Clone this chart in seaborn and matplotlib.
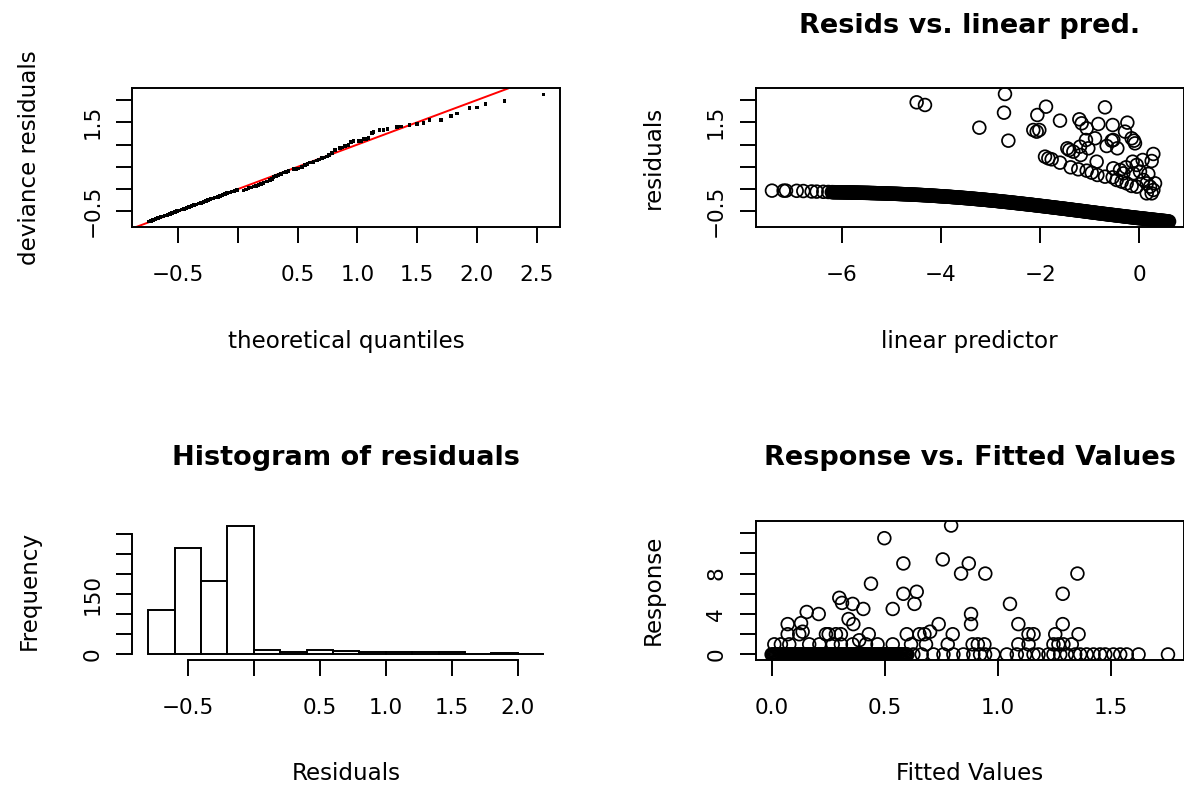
import matplotlib
matplotlib.use("Agg")
import matplotlib.pyplot as plt
import numpy as np
import pandas as pd
import seaborn as sns

# ---------------- data ----------------
# QQ plot (theoretical quantiles vs sorted deviance residuals)
qq_theoretical = [-0.75, -0.73, -0.71, -0.69, -0.67, -0.65, -0.63, -0.61, -0.59, -0.57,
                  -0.55, -0.53, -0.51, -0.49, -0.47, -0.45, -0.43, -0.41, -0.39, -0.37,
                  -0.35, -0.33, -0.31, -0.29, -0.27, -0.25, -0.23, -0.21, -0.19, -0.17,
                  -0.15, -0.13, -0.11, -0.09, -0.07, -0.05, -0.03, -0.01,
                  0.045, 0.066, 0.087, 0.108, 0.129, 0.150, 0.170, 0.191, 0.212, 0.240,
                  0.268, 0.282, 0.296, 0.317, 0.338, 0.359, 0.380, 0.401, 0.422, 0.463,
                  0.484, 0.505, 0.533, 0.561, 0.582, 0.603, 0.631, 0.659, 0.680, 0.701,
                  0.722, 0.743, 0.764, 0.784, 0.812, 0.854, 0.868, 0.893, 0.924, 0.944,
                  0.966, 1.008, 1.027, 1.050, 1.072, 1.092, 1.120, 1.133, 1.184, 1.217,
                  1.251, 1.329, 1.362, 1.435, 1.496, 1.552, 1.602, 1.697, 1.781, 1.831,
                  1.937, 1.999, 2.071, 2.231, 2.557]
qq_deviance = [-0.733, -0.714, -0.694, -0.675, -0.656, -0.636, -0.617, -0.598, -0.578, -0.559,
               -0.540, -0.521, -0.501, -0.482, -0.463, -0.443, -0.424, -0.405, -0.385, -0.366,
               -0.347, -0.328, -0.308, -0.289, -0.270, -0.250, -0.231, -0.212, -0.192, -0.173,
               -0.154, -0.134, -0.115, -0.096, -0.077, -0.057, -0.038, -0.019,
               -0.036, -0.010, 0.016, 0.035, 0.054, 0.072, 0.091, 0.110, 0.129, 0.166,
               0.203, 0.233, 0.263, 0.290, 0.316, 0.342, 0.368, 0.387, 0.406, 0.443,
               0.450, 0.458, 0.488, 0.540, 0.566, 0.593, 0.615, 0.638, 0.664, 0.690,
               0.709, 0.728, 0.765, 0.803, 0.878, 0.915, 0.937, 0.967, 0.990, 1.050,
               1.072, 1.072, 1.072, 1.125, 1.117, 1.140, 1.252, 1.275, 1.320, 1.320,
               1.342, 1.387, 1.409, 1.432, 1.462, 1.484, 1.544, 1.544, 1.634, 1.701,
               1.814, 1.836, 1.904, 1.971, 2.128]
qq_ref_intercept = 0.0
qq_ref_slope = 1.0

# Residuals vs linear predictor: sparse left end of the band
tail_eta = [-7.406, -7.171, -7.123, -6.908, -6.774, -6.606, -6.505, -6.371, -6.270]
tail_resid = [-0.036, -0.036, -0.036, -0.040, -0.045, -0.055, -0.058, -0.062, -0.066]
# dense band of zero-response observations
band_eta = [-6.20, -6.18, -6.16, -6.14, -6.12, -6.10, -6.08, -6.06, -6.04, -6.02,
            -6.00, -5.98, -5.96, -5.94, -5.92, -5.90, -5.88, -5.86, -5.84, -5.82,
            -5.80, -5.78, -5.76, -5.74, -5.72, -5.70, -5.68, -5.66, -5.64, -5.62,
            -5.60, -5.58, -5.56, -5.54, -5.52, -5.50, -5.48, -5.46, -5.44, -5.42,
            -5.40, -5.38, -5.36, -5.34, -5.32, -5.30, -5.28, -5.26, -5.24, -5.22,
            -5.20, -5.18, -5.16, -5.14, -5.12, -5.10, -5.08, -5.06, -5.04, -5.02,
            -5.00, -4.98, -4.96, -4.94, -4.92, -4.90, -4.88, -4.86, -4.84, -4.82,
            -4.80, -4.78, -4.76, -4.74, -4.72, -4.70, -4.68, -4.66, -4.64, -4.62,
            -4.60, -4.58, -4.56, -4.54, -4.52, -4.50, -4.48, -4.46, -4.44, -4.42,
            -4.40, -4.38, -4.36, -4.34, -4.32, -4.30, -4.28, -4.26, -4.24, -4.22,
            -4.20, -4.18, -4.16, -4.14, -4.12, -4.10, -4.08, -4.06, -4.04, -4.02,
            -4.00, -3.98, -3.96, -3.94, -3.92, -3.90, -3.88, -3.86, -3.84, -3.82,
            -3.80, -3.78, -3.76, -3.74, -3.72, -3.70, -3.68, -3.66, -3.64, -3.62,
            -3.60, -3.58, -3.56, -3.54, -3.52, -3.50, -3.48, -3.46, -3.44, -3.42,
            -3.40, -3.38, -3.36, -3.34, -3.32, -3.30, -3.28, -3.26, -3.24, -3.22,
            -3.20, -3.18, -3.16, -3.14, -3.12, -3.10, -3.08, -3.06, -3.04, -3.02,
            -3.00, -2.98, -2.96, -2.94, -2.92, -2.90, -2.88, -2.86, -2.84, -2.82,
            -2.80, -2.78, -2.76, -2.74, -2.72, -2.70, -2.68, -2.66, -2.64, -2.62,
            -2.60, -2.58, -2.56, -2.54, -2.52, -2.50, -2.48, -2.46, -2.44, -2.42,
            -2.40, -2.38, -2.36, -2.34, -2.32, -2.30, -2.28, -2.26, -2.24, -2.22,
            -2.20, -2.18, -2.16, -2.14, -2.12, -2.10, -2.08, -2.06, -2.04, -2.02,
            -2.00, -1.98, -1.96, -1.94, -1.92, -1.90, -1.88, -1.86, -1.84, -1.82,
            -1.80, -1.78, -1.76, -1.74, -1.72, -1.70, -1.68, -1.66, -1.64, -1.62,
            -1.60, -1.58, -1.56, -1.54, -1.52, -1.50, -1.48, -1.46, -1.44, -1.42,
            -1.40, -1.38, -1.36, -1.34, -1.32, -1.30, -1.28, -1.26, -1.24, -1.22,
            -1.20, -1.18, -1.16, -1.14, -1.12, -1.10, -1.08, -1.06, -1.04, -1.02,
            -1.00, -0.98, -0.96, -0.94, -0.92, -0.90, -0.88, -0.86, -0.84, -0.82,
            -0.80, -0.78, -0.76, -0.74, -0.72, -0.70, -0.68, -0.66, -0.64, -0.62,
            -0.60, -0.58, -0.56, -0.54, -0.52, -0.50, -0.48, -0.46, -0.44, -0.42,
            -0.40, -0.38, -0.36, -0.34, -0.32, -0.30, -0.28, -0.26, -0.24, -0.22,
            -0.20, -0.18, -0.16, -0.14, -0.12, -0.10, -0.08, -0.06, -0.04, -0.02,
            0.00, 0.02, 0.04, 0.06, 0.08, 0.10, 0.12, 0.14, 0.16, 0.18,
            0.20, 0.22, 0.24, 0.26, 0.28, 0.30, 0.32, 0.34, 0.36, 0.38,
            0.40, 0.42, 0.44, 0.46, 0.48, 0.50, 0.52, 0.54, 0.56, 0.58,
            0.60]
band_resid = [-0.070, -0.070, -0.071, -0.071, -0.072, -0.072, -0.072, -0.073, -0.073, -0.073,
              -0.074, -0.074, -0.075, -0.075, -0.076, -0.076, -0.077, -0.077, -0.077, -0.078,
              -0.078, -0.078, -0.079, -0.079, -0.080, -0.080, -0.081, -0.082, -0.083, -0.083,
              -0.084, -0.084, -0.085, -0.085, -0.086, -0.086, -0.087, -0.087, -0.088, -0.089,
              -0.090, -0.090, -0.091, -0.091, -0.092, -0.093, -0.094, -0.094, -0.095, -0.095,
              -0.096, -0.097, -0.098, -0.098, -0.099, -0.100, -0.101, -0.101, -0.102, -0.103,
              -0.104, -0.105, -0.106, -0.106, -0.107, -0.108, -0.109, -0.110, -0.111, -0.112,
              -0.113, -0.114, -0.115, -0.116, -0.117, -0.118, -0.119, -0.120, -0.121, -0.122,
              -0.123, -0.124, -0.125, -0.126, -0.127, -0.128, -0.130, -0.131, -0.132, -0.133,
              -0.134, -0.135, -0.137, -0.138, -0.139, -0.140, -0.142, -0.143, -0.145, -0.146,
              -0.147, -0.148, -0.150, -0.151, -0.153, -0.154, -0.156, -0.157, -0.159, -0.160,
              -0.162, -0.163, -0.165, -0.166, -0.168, -0.169, -0.171, -0.172, -0.174, -0.175,
              -0.177, -0.179, -0.181, -0.182, -0.184, -0.185, -0.187, -0.189, -0.191, -0.192,
              -0.194, -0.196, -0.198, -0.200, -0.202, -0.203, -0.205, -0.207, -0.209, -0.211,
              -0.213, -0.215, -0.217, -0.219, -0.221, -0.223, -0.225, -0.227, -0.229, -0.231,
              -0.233, -0.235, -0.237, -0.239, -0.241, -0.243, -0.245, -0.248, -0.250, -0.252,
              -0.254, -0.256, -0.258, -0.261, -0.263, -0.265, -0.267, -0.270, -0.272, -0.275,
              -0.277, -0.279, -0.281, -0.284, -0.286, -0.289, -0.291, -0.293, -0.295, -0.298,
              -0.300, -0.303, -0.305, -0.308, -0.310, -0.313, -0.315, -0.318, -0.320, -0.323,
              -0.325, -0.328, -0.330, -0.333, -0.335, -0.338, -0.340, -0.343, -0.345, -0.348,
              -0.350, -0.353, -0.355, -0.358, -0.361, -0.364, -0.366, -0.369, -0.371, -0.374,
              -0.377, -0.380, -0.382, -0.385, -0.387, -0.390, -0.393, -0.396, -0.398, -0.401,
              -0.404, -0.407, -0.409, -0.412, -0.415, -0.418, -0.420, -0.423, -0.426, -0.429,
              -0.431, -0.434, -0.437, -0.440, -0.442, -0.445, -0.448, -0.451, -0.454, -0.457,
              -0.459, -0.462, -0.465, -0.468, -0.471, -0.474, -0.476, -0.479, -0.482, -0.485,
              -0.488, -0.491, -0.493, -0.496, -0.499, -0.502, -0.505, -0.508, -0.511, -0.514,
              -0.517, -0.520, -0.522, -0.525, -0.528, -0.531, -0.534, -0.537, -0.540, -0.543,
              -0.545, -0.548, -0.551, -0.554, -0.557, -0.560, -0.562, -0.565, -0.568, -0.571,
              -0.573, -0.576, -0.579, -0.582, -0.584, -0.587, -0.590, -0.593, -0.595, -0.598,
              -0.601, -0.604, -0.606, -0.609, -0.612, -0.615, -0.617, -0.620, -0.622, -0.625,
              -0.628, -0.631, -0.633, -0.636, -0.638, -0.641, -0.644, -0.647, -0.649, -0.652,
              -0.654, -0.657, -0.659, -0.662, -0.664, -0.667, -0.669, -0.672, -0.675, -0.677,
              -0.680, -0.682, -0.685, -0.687, -0.690, -0.692, -0.695, -0.697, -0.700, -0.702,
              -0.705, -0.707, -0.710, -0.712, -0.715, -0.717, -0.719, -0.722, -0.724, -0.727,
              -0.729]
# positive-response observations
upper_eta = [-4.489, -4.321, -3.225, -2.708, -2.728, -2.640, -1.881, -2.056, -2.137, -2.069,
             -2.016, -1.599, -1.209, -1.162, -1.061, -0.826, -0.692, -0.537, -0.241, -0.288,
             -0.154, -0.107, -0.087, -1.075, -0.893, -1.196, -1.028, -0.658, -0.524, -0.443,
             -0.557, -1.411, -1.451, -1.330, -1.182, -1.901, -1.834, -1.767, -1.599, -1.384,
             -1.230, -1.061, -0.960, -0.860, -0.846, -0.692, -0.537, -0.524, -0.389, -0.268,
             -0.134, 0.068, 0.283, 0.249, -0.456, -0.355, -0.255, -0.154, -0.053, 0.081,
             0.149, 0.216, 0.283, 0.317, 0.149, 0.249, -0.120, 0.014, 0.182, -0.322, -0.053]
upper_resid = [1.949, 1.889, 1.379, 2.136, 1.716, 1.087, 1.851, 1.664, 1.327, 1.290,
               1.327, 1.537, 1.567, 1.477, 1.364, 1.462, 1.836, 1.439, 1.492, 1.290,
               1.140, 1.087, 1.027, 1.102, 1.140, 0.952, 0.915, 0.967, 1.102, 0.915,
               1.087, 0.878, 0.915, 0.840, 0.765, 0.728, 0.690, 0.668, 0.593, 0.488,
               0.443, 0.413, 0.368, 0.615, 0.316, 0.278, 0.263, 0.466, 0.428, 0.488,
               0.615, 0.653, 0.788, 0.630, 0.203, 0.166, 0.128, 0.069, 0.053, 0.203,
               0.128, 0.053, -0.021, 0.128, -0.097, -0.097, 0.353, 0.391, 0.339, 0.353, 0.541]

# Histogram of residuals
hist_edges = [-0.8, -0.6, -0.4, -0.2, 0.0, 0.2, 0.4, 0.6, 0.8, 1.0, 1.2, 1.4, 1.6, 1.8, 2.0, 2.2]
hist_counts = [110, 264, 183, 320, 11, 7, 12, 9, 7, 7, 5, 5, 2, 4, 1]

# Response vs fitted values
zero_fitted = [0.000, 0.005, 0.010, 0.015, 0.020, 0.025, 0.030, 0.035, 0.040, 0.045,
               0.050, 0.055, 0.060, 0.065, 0.070, 0.075, 0.080, 0.085, 0.090, 0.095,
               0.100, 0.105, 0.110, 0.115, 0.120, 0.125, 0.130, 0.135, 0.140, 0.145,
               0.150, 0.155, 0.160, 0.165, 0.170, 0.175, 0.180, 0.185, 0.190, 0.195,
               0.200, 0.205, 0.210, 0.215, 0.220, 0.225, 0.230, 0.235, 0.240, 0.245,
               0.250, 0.255, 0.260, 0.265, 0.270, 0.275, 0.280, 0.285, 0.290, 0.295,
               0.300, 0.305, 0.310, 0.315, 0.320, 0.325, 0.330, 0.335, 0.340, 0.345,
               0.350, 0.355, 0.360, 0.365, 0.370, 0.375, 0.380, 0.385, 0.390, 0.395,
               0.400, 0.405, 0.410, 0.415, 0.420, 0.425, 0.430, 0.435, 0.440, 0.445,
               0.450, 0.455, 0.460, 0.465, 0.470, 0.475, 0.480, 0.485, 0.490, 0.495,
               0.500, 0.505, 0.510, 0.515, 0.520, 0.525, 0.530, 0.535, 0.540, 0.545,
               0.550, 0.555, 0.560, 0.565, 0.570, 0.575, 0.580, 0.585, 0.590, 0.595,
               0.600,
               0.626, 0.663, 0.715, 0.759, 0.803, 0.847, 0.891, 0.921, 0.943, 0.980,
               1.039, 1.083, 1.120, 1.157, 1.179, 1.223, 1.245, 1.275, 1.304, 1.341,
               1.363, 1.392, 1.422, 1.451, 1.474, 1.510, 1.540, 1.569, 1.621, 1.751]
one_fitted = [0.012, 0.041, 0.078, 0.166, 0.211, 0.270, 0.306, 0.358, 0.417, 0.468,
              0.535, 0.616, 0.682, 0.778, 0.888, 0.911, 0.940, 1.090, 1.135, 1.245,
              1.267, 1.289, 1.326]
other_fitted = [0.793, 0.498, 0.582, 0.756, 0.871, 0.837, 0.944, 0.439, 0.582, 0.641,
                0.631, 0.535, 0.405, 0.299, 0.311, 0.358, 0.340, 0.361, 0.155, 0.208,
                0.071, 0.130, 0.137, 0.122, 0.071, 0.738, 0.881, 0.881, 0.252, 0.284,
                0.306, 0.240, 0.429, 0.597, 0.653, 0.675, 0.700, 0.800, 0.387,
                1.286, 1.351, 1.053, 1.090, 1.286, 1.135, 1.157, 1.253, 1.356]
other_response = [12.75, 11.5, 9.0, 9.4, 9.0, 8.0, 8.0, 7.0, 6.0, 6.2,
                   5.0, 4.5, 4.5, 5.6, 5.1, 5.0, 3.5, 3.0, 4.2, 4.0,
                   3.0, 3.1, 2.25, 2.0, 2.0, 3.0, 4.0, 3.0, 2.0, 2.0,
                   2.0, 2.0, 2.0, 2.0, 2.0, 2.0, 2.25, 2.0, 1.4,
                   6.0, 8.0, 5.0, 3.0, 3.0, 2.0, 2.0, 2.0, 2.0]

# ---------------- assemble frames ----------------
qq_df = pd.DataFrame({"theo": qq_theoretical, "dev": qq_deviance})
res_df = pd.DataFrame({"eta": tail_eta + band_eta + upper_eta,
                       "res": tail_resid + band_resid + upper_resid})
resp_df = pd.DataFrame({
    "fitted": zero_fitted + one_fitted + other_fitted,
    "response": [0.0 for _ in zero_fitted] + [1.0 for _ in one_fitted] + other_response,
})
hist_mids = [(a + b) / 2 for a, b in zip(hist_edges[:-1], hist_edges[1:])]

# ---------------- style ----------------
sns.set_theme(style="white")
plt.rcParams['font.family'] = ['DejaVu Sans']
plt.rcParams['axes.unicode_minus'] = True

W, H = 1184, 787
fig = plt.figure(figsize=(W / 100, H / 100), dpi=100)
fig.patch.set_facecolor('white')


def add_axes(left, top, right, bottom):
    return fig.add_axes([left / W, 1 - bottom / H, (right - left) / W, (bottom - top) / H])


ax_qq = add_axes(132.3, 88.3, 560.0, 227.3)
ax_rs = add_axes(756.0, 88.3, 1183.6, 227.3)
ax_hi = add_axes(132.3, 520.6, 560.0, 659.6)
ax_rf = add_axes(756.0, 520.6, 1183.6, 659.6)

LW = 1.4
FS_TICK = 15.5
FS_LAB = 16.6
FS_TITLE = 19.5
MINUS = "\u2212"
CIRCLE_S = 84
CIRCLE_LW = 1.25


def style(ax, xticks, xlabels, yticks, ylabels, xlabel, ylabel, title=None, box=True):
    ax.set_facecolor('white')
    for s in ax.spines.values():
        s.set_visible(box)
        s.set_color('black')
        s.set_linewidth(LW)
    ax.set_xticks(xticks)
    ax.set_xticklabels(xlabels)
    ax.set_yticks(yticks)
    ax.set_yticklabels(ylabels, rotation=90, va='center', ha='right')
    ax.tick_params(axis='both', which='major', direction='out', length=11.5, width=LW,
                   color='black', labelsize=FS_TICK, labelcolor='black', bottom=True,
                   left=True, top=False, right=False)
    ax.tick_params(axis='x', pad=16)
    ax.tick_params(axis='y', pad=10)
    ax.set_xlabel(xlabel, fontsize=FS_LAB, color='black')
    ax.set_ylabel(ylabel, fontsize=FS_LAB, color='black')
    h = ax.get_position().height * H
    w = ax.get_position().width * W
    ax.xaxis.set_label_coords(0.5, -114.0 / h)
    ax.xaxis.label.set_va('center')
    ax.yaxis.set_label_coords(-103.0 / w, 0.5)
    ax.yaxis.label.set_va('center')
    ax.yaxis.label.set_ha('center')
    if title:
        ax.text(0.5, 1 + 55.5 / h, title, transform=ax.transAxes, ha='center',
                va='baseline', fontsize=FS_TITLE, fontweight='bold', color='black')
    ax.grid(False)


# QQ plot
ax_qq.axline((0.0, qq_ref_intercept), slope=qq_ref_slope, color='#FF0000', lw=LW, zorder=1)
sns.scatterplot(data=qq_df, x="theo", y="dev", ax=ax_qq, marker='s', s=7.0,
                color='black', edgecolor='none', linewidth=0, zorder=2)
ax_qq.set_xlim(-0.885, 2.695)
ax_qq.set_ylim(-0.86, 2.264)
style(ax_qq, [-0.5, 0, 0.5, 1.0, 1.5, 2.0, 2.5],
      [MINUS + "0.5", "", "0.5", "1.0", "1.5", "2.0", "2.5"],
      [-0.5, 0, 0.5, 1.0, 1.5, 2.0], [MINUS + "0.5", "", "", "", "1.5", ""],
      "theoretical quantiles", "deviance residuals")

# Residuals vs linear predictor
sns.scatterplot(data=res_df, x="eta", y="res", ax=ax_rs, marker='o', s=CIRCLE_S,
                facecolors='none', edgecolors='black', linewidth=CIRCLE_LW)
ax_rs.set_xlim(-7.728, 0.893)
ax_rs.set_ylim(-0.86, 2.264)
style(ax_rs, [-6, -4, -2, 0], [MINUS + "6", MINUS + "4", MINUS + "2", "0"],
      [-0.5, 0, 0.5, 1.0, 1.5, 2.0], [MINUS + "0.5", "", "", "", "1.5", ""],
      "linear predictor", "residuals", title="Resids vs. linear pred.")

# Histogram
sns.histplot(x=hist_mids, weights=hist_counts, bins=hist_edges, ax=ax_hi,
             color='white', edgecolor='black', linewidth=LW, alpha=1.0)
ax_hi.set_xlim(-0.92, 2.32)
ax_hi.set_ylim(-12.8, 332.8)
style(ax_hi, [-0.5, 0, 0.5, 1.0, 1.5, 2.0],
      [MINUS + "0.5", "", "0.5", "1.0", "1.5", "2.0"],
      [0, 50, 100, 150, 200, 250, 300], ["0", "", "", "150", "", "", ""],
      "Residuals", "Frequency", title="Histogram of residuals", box=True)
ax_hi.spines['top'].set_visible(False)
ax_hi.spines['right'].set_visible(False)
ax_hi.spines['left'].set_bounds(0, 300)
ax_hi.spines['bottom'].set_bounds(-0.5, 2.0)

# Response vs fitted
sns.scatterplot(data=resp_df, x="fitted", y="response", ax=ax_rf, marker='o', s=CIRCLE_S,
                facecolors='none', edgecolors='black', linewidth=CIRCLE_LW)
ax_rf.set_xlim(-0.069, 1.82)
ax_rf.set_ylim(-0.51, 13.24)
style(ax_rf, [0.0, 0.5, 1.0, 1.5], ["0.0", "0.5", "1.0", "1.5"],
      [0, 2, 4, 6, 8, 10, 12], ["0", "", "4", "", "8", "", ""],
      "Fitted Values", "Response", title="Response vs. Fitted Values")

fig.savefig("out.png", dpi=100, facecolor='white')
